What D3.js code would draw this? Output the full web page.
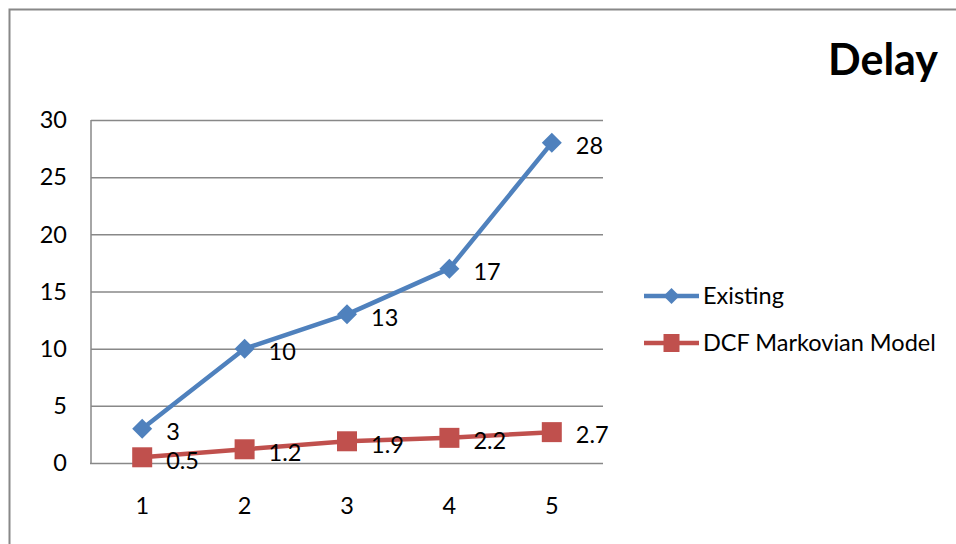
<!DOCTYPE html>
<html>
<head>
<meta charset="utf-8">
<script src="https://cdn.jsdelivr.net/npm/d3@7"></script>
<style>
  body { margin: 0; background: #fff; }
  svg { display: block; font-family: Lato, "Noto Sans", sans-serif; }
</style>
</head>
<body>
<svg width="956" height="544"></svg>
<script>
// data
var categories = [1, 2, 3, 4, 5];
var existing = [3, 10, 13, 17, 28];
var dcfMarkov = [0.5, 1.2, 1.9, 2.2, 2.7];
var yTicks = [0, 5, 10, 15, 20, 25, 30];
var seriesNames = ['Existing', 'DCF Markovian Model'];

var svg = d3.select('svg');
var blue = '#4F81BD', red = '#C0504D', grid = '#888888';
var fs = 23.5;

// chart frame (runs off the right and bottom edge)
svg.append('rect').attr('x', 9.5).attr('y', 9.5).attr('width', 1000).attr('height', 600)
  .attr('fill', 'none').attr('stroke', grid).attr('stroke-width', 2);

var x = d3.scalePoint().domain(categories).range([91, 603]).padding(0.5);
var y = d3.scaleLinear().domain([0, 30]).range([463, 120]);

// gridlines
svg.selectAll('line.grid').data(yTicks.slice(1)).enter().append('line')
  .attr('class', 'grid')
  .attr('x1', 91).attr('x2', 603)
  .attr('y1', function(d) { return y(d) + 0.5; }).attr('y2', function(d) { return y(d) + 0.5; })
  .attr('stroke', grid).attr('stroke-width', 1.5);

// axes
svg.append('line').attr('x1', 91).attr('x2', 91).attr('y1', 120).attr('y2', 464)
  .attr('stroke', grid).attr('stroke-width', 1.5);
svg.append('line').attr('x1', 90).attr('x2', 603).attr('y1', 463.5).attr('y2', 463.5)
  .attr('stroke', grid).attr('stroke-width', 1.5);

svg.selectAll('text.ytick').data(yTicks).enter().append('text')
  .attr('x', 67).attr('y', function(d) { return y(d); })
  .attr('dy', '0.35em').attr('text-anchor', 'end')
  .attr('font-size', fs).attr('fill', '#000')
  .text(function(d) { return d; });

svg.selectAll('text.xtick').data(categories).enter().append('text')
  .attr('x', function(d) { return x(d); }).attr('y', 506)
  .attr('dy', '0.35em').attr('text-anchor', 'middle')
  .attr('font-size', fs).attr('fill', '#000')
  .text(function(d) { return d; });

// title
svg.append('text').attr('x', 938).attr('y', 75).attr('text-anchor', 'end')
  .attr('font-size', 43).attr('font-weight', 'bold').text('Delay');

var line = d3.line()
  .x(function(d, i) { return x(categories[i]); })
  .y(function(d) { return y(d); });

function drawSeries(vals, color, shape) {
  svg.append('path').datum(vals).attr('d', line)
    .attr('fill', 'none').attr('stroke', color).attr('stroke-width', 4.5)
    .attr('stroke-linejoin', 'round');
  svg.selectAll(null).data(vals).enter().append('path')
    .attr('transform', function(d, i) { return 'translate(' + x(categories[i]) + ',' + y(d) + ')'; })
    .attr('d', shape).attr('fill', color);
  svg.selectAll(null).data(vals).enter().append('text')
    .attr('x', function(d, i) { return x(categories[i]) + 24; })
    .attr('y', function(d) { return y(d) + 3; })
    .attr('dy', '0.35em').attr('font-size', fs).attr('fill', '#000')
    .text(function(d) { return d; });
}

var diamond = 'M0,-10L10,0L0,10L-10,0Z';
var square = 'M-10,-10H10V10H-10Z';

drawSeries(dcfMarkov, red, square);
drawSeries(existing, blue, diamond);

// legend
var legend = [
  { name: seriesNames[0], color: blue, shape: 'M0,-8L8,0L0,8L-8,0Z', y: 296 },
  { name: seriesNames[1], color: red, shape: 'M-8,-9H8V9H-8Z', y: 343 }
];
legend.forEach(function(l) {
  svg.append('line').attr('x1', 644).attr('x2', 699).attr('y1', l.y).attr('y2', l.y)
    .attr('stroke', l.color).attr('stroke-width', 4.5);
  svg.append('path').attr('transform', 'translate(671.5,' + l.y + ')').attr('d', l.shape).attr('fill', l.color);
  svg.append('text').attr('x', 703).attr('y', l.y).attr('dy', '0.35em')
    .attr('font-size', fs).attr('fill', '#000').text(l.name);
});
</script>
</body>
</html>
